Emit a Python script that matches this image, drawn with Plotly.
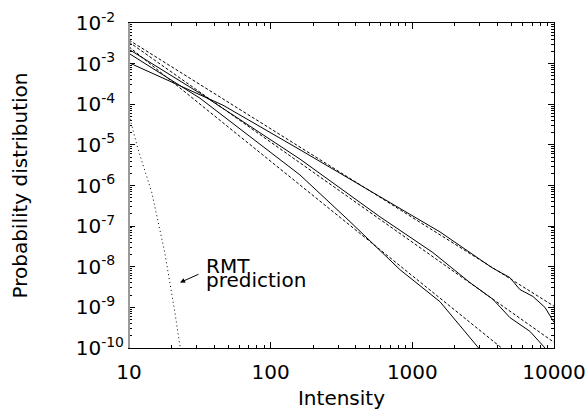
import plotly.graph_objects as go

# ---- data ----
# measured distributions (solid)
int_a = [10, 46, 161, 590, 1567, 3648, 4887, 5741, 7096, 8630, 10000]
prob_a = [1.05e-3, 9.5e-5, 7.6e-6, 5.2e-7, 7.2e-8, 9.5e-9, 5.4e-9, 2.75e-9, 1.86e-9, 1.0e-9, 4.3e-10]

int_b = [10, 31.7, 161, 590, 1396, 2553, 3707, 4887, 6761, 8630, 8913]
prob_b = [2.24e-3, 1.86e-4, 4.47e-6, 1.7e-7, 2.24e-8, 4.07e-9, 1.58e-9, 5.6e-10, 2.57e-10, 1.05e-10, 8.9e-11]

int_c = [10, 31.7, 161, 363, 817, 1567, 3020]
prob_c = [1.78e-3, 1.41e-4, 1.82e-6, 1.29e-7, 8.5e-9, 1.38e-9, 8.9e-11]

# power-law fits (dashed)
fit_int = [10, 10000]
fit_a = [3.8e-3, 1.07e-9]
fit_b = [3.4e-3, 1.38e-10]
fit_c = [2.6e-3, 9.1e-12]

# RMT prediction (dotted)
rmt_int = [10, 11.57, 14.5, 17.9, 21.1, 22.9]
rmt_prob = [5.4e-5, 7.9e-6, 6.6e-7, 2.2e-8, 7.4e-10, 1.1e-10]

x_tickvals = [10, 100, 1000, 10000]
x_ticktext = ["10", "100", "1000", "10000"]
y_exponents = [-2, -3, -4, -5, -6, -7, -8, -9, -10]

# ---- figure ----
FONT = "DejaVu Sans, Verdana, sans-serif"
FSIZE = 20
fig = go.Figure()

solid = dict(color="black", width=1)
dashed = dict(color="black", width=1, dash="3px,2px")

for xs, ys in [(int_a, prob_a), (int_b, prob_b), (int_c, prob_c)]:
    fig.add_trace(go.Scatter(x=xs, y=ys, mode="lines", line=solid, showlegend=False))
for ys in [fit_a, fit_b, fit_c]:
    fig.add_trace(go.Scatter(x=fit_int, y=ys, mode="lines", line=dashed, showlegend=False))
fig.add_trace(go.Scatter(x=rmt_int, y=rmt_prob, mode="lines",
                         line=dict(color="black", width=1, dash="1px,3px"), showlegend=False))

FS = "\u2007"
y_tickvals = [10.0 ** e for e in y_exponents]
y_ticktext = ["10<sup>%d%s</sup>" % (e, "" if e <= -10 else FS) for e in y_exponents]

x_minor = [m * 10 ** k for k in range(1, 4) for m in range(2, 10)]
y_minor = [m * 10.0 ** k for k in range(-10, -2) for m in range(2, 10)]

fig.update_xaxes(
    type="log", range=[1, 4], automargin=False,
    tickmode="array", tickvals=x_tickvals, ticktext=x_ticktext,
    ticks="inside", ticklen=6, tickcolor="black", ticklabelstandoff=6,
    showline=True, linecolor="black", linewidth=1, mirror="ticks",
    showgrid=False, zeroline=False,
    minor=dict(tickmode="array", tickvals=x_minor, ticks="inside", ticklen=3,
               tickcolor="black", showgrid=False),
    tickfont=dict(family=FONT, size=FSIZE, color="black"),
    title=dict(text="Intensity", font=dict(family=FONT, size=FSIZE, color="black"), standoff=7),
)
fig.update_yaxes(
    type="log", range=[-10, -2], automargin=False,
    tickmode="array", tickvals=y_tickvals, ticktext=y_ticktext,
    ticks="inside", ticklen=6, tickcolor="black",
    showline=True, linecolor="black", linewidth=1, mirror="ticks",
    showgrid=False, zeroline=False,
    minor=dict(tickmode="array", tickvals=y_minor, ticks="inside", ticklen=3,
               tickcolor="black", showgrid=False),
    tickfont=dict(family=FONT, size=FSIZE, color="black"),
    title=dict(text="Probability distribution", font=dict(family=FONT, size=FSIZE, color="black"), standoff=42),
)

# left spine drawn in grey as in the reference
fig.add_shape(type="line", xref="paper", yref="paper", x0=0, x1=0, y0=0, y1=1,
              line=dict(color="#9a9a9a", width=2))

fig.add_annotation(x=1.55, y=-7.97, xref="x", yref="y", text="RMT", showarrow=False,
                   xanchor="left", yanchor="middle", xshift=-3,
                   font=dict(family=FONT, size=FSIZE, color="black"))
fig.add_annotation(x=1.55, y=-8.32, xref="x", yref="y", text="prediction", showarrow=False,
                   xanchor="left", yanchor="middle", xshift=-3,
                   font=dict(family=FONT, size=FSIZE, color="black"))
fig.add_annotation(x=1.36, y=-8.39, xref="x", yref="y", text="", showarrow=True,
                   ax=20, ay=-9, arrowhead=2, arrowsize=1, arrowwidth=1, arrowcolor="black")

fig.update_layout(
    width=587, height=415,
    margin=dict(l=129, r=33, t=23, b=67),
    plot_bgcolor="white", paper_bgcolor="white",
    showlegend=False,
)

fig.write_html("out.html", config={"displayModeBar": False},
               post_script="document.body.style.margin='0';")
